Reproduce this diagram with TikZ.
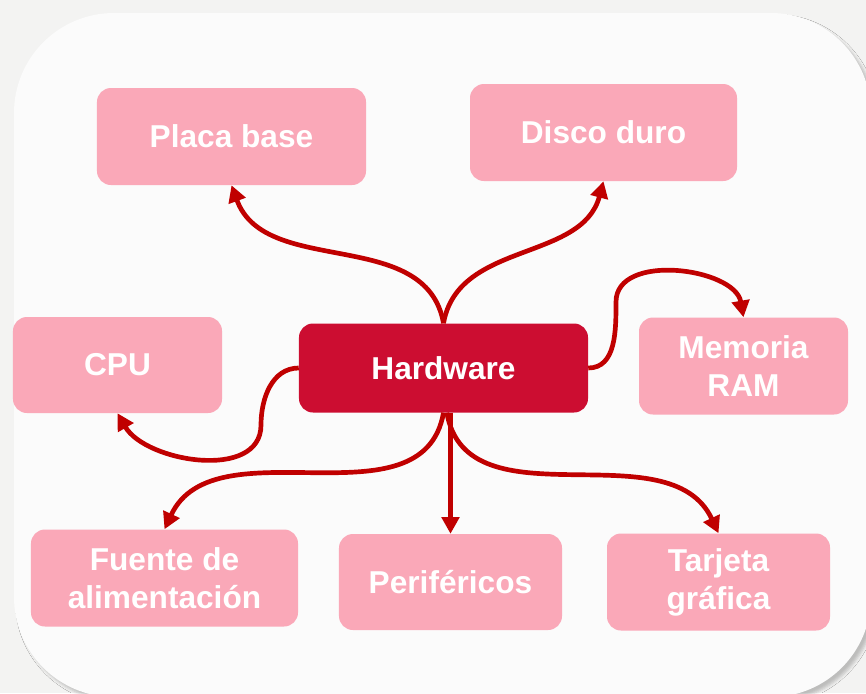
\documentclass[tikz,border=0pt]{standalone}
\usepackage{fontspec}
\setmainfont{Liberation Sans}
\usetikzlibrary{arrows.meta,shadows.blur}
\definecolor{pinkbox}{HTML}{FAA8B8}
\definecolor{hwred}{HTML}{CC0D31}
\definecolor{arrowred}{HTML}{C00000}
\definecolor{pagegray}{HTML}{F3F3F2}
\definecolor{panel}{HTML}{FBFBFB}
\tikzset{
  item/.style={fill=pinkbox, rounded corners=0.42cm, text=white, inner sep=0pt,
    font=\fontsize{27}{32.5}\selectfont\bfseries, align=center, minimum height=2.91cm},
  link/.style={arrowred, line width=4pt, -{Triangle[length=0.5cm,width=0.52cm]}},
}
\begin{document}
\begin{tikzpicture}[x=0.03cm, y=-0.03cm]
      \clip (0,0) rectangle (866,693);
      \fill[pagegray] (0,0) rectangle (866,693);
      \fill[panel, rounded corners=3cm, blur shadow={shadow xshift=3.5pt, shadow yshift=-3.5pt, shadow opacity=22, shadow blur radius=2.5pt}]
        (14,13) rectangle (871,697);
      \node[item, minimum width=8.07cm] (pb) at (231.5,136.5) {Placa base};
      \node[item, minimum width=8.01cm] (dd) at (603.5,132.5) {Disco duro};
      \node[item, minimum width=6.27cm, minimum height=2.88cm] (cpu) at (117.5,365) {CPU};
      \node[item, fill=hwred, minimum width=8.67cm, minimum height=2.67cm] (hw) at (443.5,368) {Hardware};
      \node[item, minimum width=6.27cm] (ram) at (743.5,366) {Memoria\\RAM};
      \node[item, minimum width=8.01cm] (fa) at (164.5,578) {Fuente de\\alimentación};
      \node[item, minimum width=6.69cm, minimum height=2.88cm] (per) at (450.5,582) {Periféricos};
      \node[item, minimum width=6.69cm] (tg) at (718.5,582) {Tarjeta\\gráfica};
      \coordinate (ramturn) at (616,302);
      \coordinate (cputurn) at (261,425);
      \begin{scope}[link]
        \draw (hw.north) to[out=100, in=-70] (pb.south);
        \draw (hw.north) to[out=80, in=-105] (dd.south);
        \draw (hw.east) to[out=0, in=-90] (ramturn) to[out=90, in=100] (ram.north);
        \draw (hw.west) to[out=180, in=90] (cputurn) to[out=-90, in=-60] (cpu.south);
        \draw (hw.south) to[out=-100, in=65] (fa.north);
        \draw (per.north |- hw.south) -- (per.north);
        \draw ([xshift=0.1cm]hw.south) to[out=-80, in=115] (tg.north);
      \end{scope}
    \end{tikzpicture}
\end{document}
